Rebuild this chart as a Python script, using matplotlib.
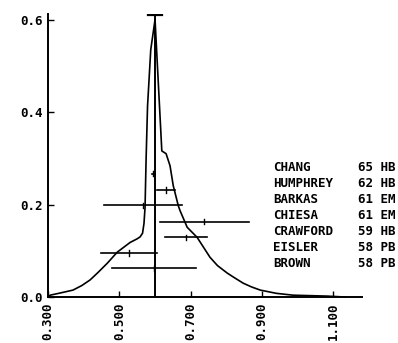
import matplotlib

matplotlib.use("Agg")
import matplotlib.pyplot as plt

# ideogram curve
curve_x = [0.300, 0.306, 0.330, 0.370, 0.395, 0.418, 0.440, 0.466, 0.494, 0.530,
           0.550, 0.558, 0.565, 0.569, 0.572, 0.575, 0.579, 0.588, 0.600, 0.619,
           0.631, 0.642, 0.651, 0.665, 0.670, 0.690, 0.718, 0.754, 0.775, 0.802,
           0.820, 0.847, 0.870, 0.895, 0.940, 0.987, 1.083, 1.133]
curve_y = [0.000, 0.004, 0.008, 0.015, 0.025, 0.037, 0.053, 0.073, 0.097, 0.118,
           0.126, 0.130, 0.138, 0.159, 0.194, 0.300, 0.413, 0.535, 0.600, 0.316,
           0.310, 0.284, 0.241, 0.198, 0.187, 0.151, 0.129, 0.086, 0.068, 0.052,
           0.043, 0.030, 0.022, 0.015, 0.008, 0.004, 0.002, 0.000]

# measurements
names = ["CHANG", "HUMPHREY", "BARKAS", "CHIESA", "CRAWFORD", "EISLER", "BROWN"]
refs = ["65 HB", "62 HB", "61 EM", "61 EM", "59 HB", "58 PB", "58 PB"]
values = [0.595, 0.630, 0.566, 0.738, 0.687, 0.527, 0.597]
errors = [0.004, 0.025, 0.110, 0.125, 0.059, 0.079, 0.118]
bar_y = [0.267, 0.232, 0.198, 0.163, 0.129, 0.095, 0.062]

mean_value = 0.600
mean_top = 0.611

xticks = [0.3, 0.5, 0.7, 0.9, 1.1]
xlabels = ["0.300", "0.500", "0.700", "0.900", "1.100"]
yticks = [0.0, 0.2, 0.4, 0.6]
ylabels = ["0.0", "0.2", "0.4", "0.6"]

font = dict(family="DejaVu Sans Mono", weight="bold", size=9)

fig = plt.figure(figsize=(3.98, 3.43), dpi=100)
ax = fig.add_axes([0.1206, 0.134, 0.7889, 0.825])

ax.plot(curve_x, curve_y, color="black", lw=1.2)

for v, e, y in zip(values, errors, bar_y):
    ax.plot([v - e, v + e], [y, y], color="black", lw=1.2)
    ax.plot([v, v], [y - 0.006, y + 0.006], color="black", lw=1.0)

ax.plot([mean_value, mean_value], [0, mean_top], color="black", lw=1.4)
ax.plot([mean_value - 0.02, mean_value + 0.02], [mean_top, mean_top], color="black", lw=1.6)

ax.set_xlim(0.3, 1.18)
ax.set_ylim(0, 0.612)
for side in ["top", "right"]:
    ax.spines[side].set_visible(False)
for side in ["left", "bottom"]:
    ax.spines[side].set_linewidth(1.4)

ax.set_xticks(xticks)
ax.set_xticklabels(xlabels, rotation=90, fontdict=font)
ax.set_yticks(yticks)
ax.set_yticklabels(ylabels, fontdict=font)
ax.tick_params(direction="in", length=4, width=1.0, pad=4)

for i, (n, r) in enumerate(zip(names, refs)):
    ax.text(0.716, 0.459 - i * 0.0565, n, transform=ax.transAxes,
            va="center", ha="left", clip_on=False, **font)
    ax.text(0.987, 0.459 - i * 0.0565, r, transform=ax.transAxes,
            va="center", ha="left", clip_on=False, **font)

fig.savefig("out.png", dpi=100)
